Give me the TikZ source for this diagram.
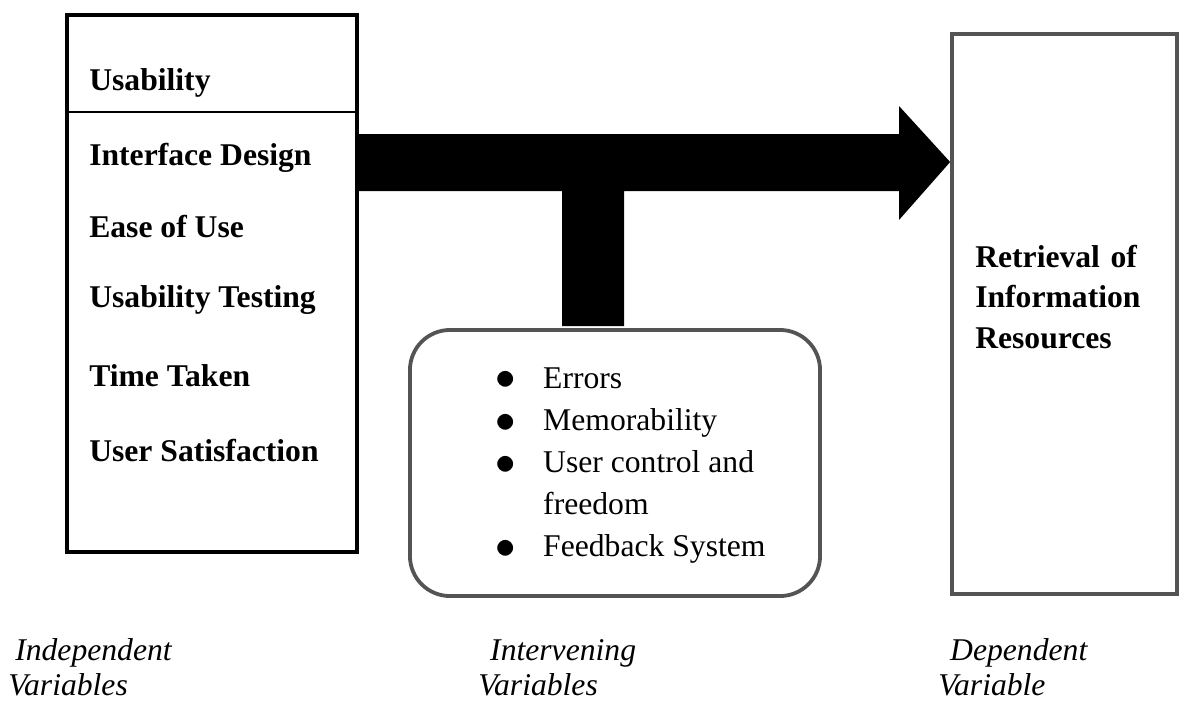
\documentclass[tikz,border=0pt]{standalone}
\usepackage{fontspec}
\setmainfont{Liberation Serif}
\usepackage{tikz}
\usetikzlibrary{positioning,calc}
\definecolor{boxgrey}{HTML}{545454}
\newcommand{\bigdot}{\raisebox{-0.06em}{\scalebox{1.4}{$\bullet$}}}

\begin{document}
\begin{tikzpicture}[x=0.025cm, y=-0.025cm,
    every node/.style={inner sep=0pt, font=\fontsize{22.5}{30}\selectfont},
    item/.style={anchor=base west, font=\fontsize{22.5}{30}\selectfont\bfseries},
    varlabel/.style={anchor=base west, text width=5cm, align=left,
      font=\fontsize{22.5}{25}\selectfont\itshape}]
  \useasboundingbox (0,0) rectangle (1180,700);

  % Boxes
  \node[draw, line width=2.9pt, minimum width=7.25cm, minimum height=13.425cm]
    (indep) at (212,283.5) {};
  \node[draw=boxgrey, line width=2.7pt, rounded corners=1cm,
    minimum width=10.25cm, minimum height=6.65cm] (interv) at (615,463) {};
  \node[draw=boxgrey, line width=2.6pt, minimum width=5.625cm, minimum height=14cm]
    (dep) at (1064.5,314) {};

  % Independent variables
  \node[item] (usab) at (89,90) {Usability};
  \draw[line width=1pt] (indep.west |- 0,112) -- (indep.east |- 0,112);
  \node[item] (iface) at (89,165) {Interface Design};
  \node[item] (ease) at (89,237) {Ease of Use};
  \node[item] (utest) at (89,307) {Usability Testing};
  \node[item] (ttaken) at (89,386) {Time Taken};
  \node[item] (usat) at (89,461) {User Satisfaction};

  % Intervening variables
  \node[anchor=base west] (errlist) at (495,388) {%
    \begin{tabular}[t]{@{}p{34.1pt}@{}l@{}}
      \bigdot & Errors\\
      \bigdot & Memorability\\
      \bigdot & User control and\\
              & freedom\\
      \bigdot & Feedback System
    \end{tabular}};

  % Dependent variable
  \node[item, text width=5cm, align=left, font=\fontsize{22.5}{29}\selectfont\bfseries]
    (retr) at (975,267) {Retrieval of\\Information\\Resources};

  % T arrow
  \fill (indep.east |- 0,134) -- (899,134) -- (899,106) -- (dep.west |- 0,162)
    -- (899,220) -- (899,191) -- (624,191) -- (624,326) -- (562,326)
    -- (562,191) -- (indep.east |- 0,191) -- cycle;

  % Labels
  \node[varlabel] (indlab) at (8,660) {\hspace*{5pt}Independent\\Variables};
  \node[varlabel] (intlab) at (478,660) {\hspace*{8.5pt}Intervening\\Variables};
  \node[varlabel] (deplab) at (938,660) {\hspace*{8.5pt}Dependent\\Variable};
\end{tikzpicture}
\end{document}
